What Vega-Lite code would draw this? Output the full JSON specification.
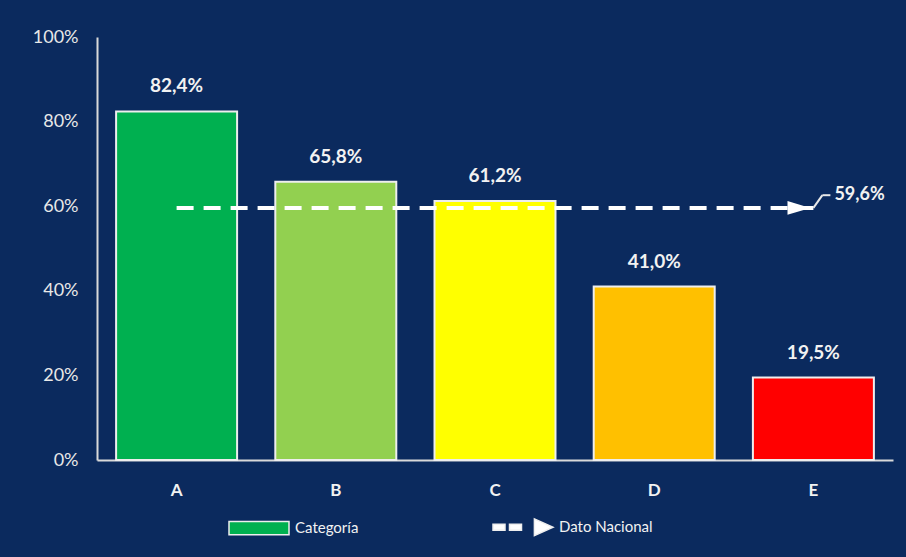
{
  "$schema": "https://vega.github.io/schema/vega-lite/v6.json",
  "width": 796,
  "height": 423,
  "autosize": {"type": "none"},
  "padding": {"left": 97, "top": 37, "right": 13, "bottom": 97},
  "background": "#0b2a5e",
  "config": {
    "view": {"stroke": null},
    "font": "Lato",
    "locale": {"number": {"decimal": ",", "thousands": ".", "grouping": [3], "currency": ["", " €"]}},
    "axis": {"domainColor": "#d9d9d9", "domainWidth": 2, "ticks": false, "grid": false, "labelColor": "#e8e8e8", "labelFont": "Lato", "title": null}
  },
  "data": {"values": [
    {"cat": "A", "valor": 0.824, "color": "#00b050"},
    {"cat": "B", "valor": 0.658, "color": "#92d050"},
    {"cat": "C", "valor": 0.612, "color": "#ffff00"},
    {"cat": "D", "valor": 0.410, "color": "#ffc000"},
    {"cat": "E", "valor": 0.195, "color": "#ff0000"}
  ]},
  "layer": [
    {
      "data": {"values": [
        {"cat": "A", "valor": 0.3, "leyenda": "Categoría"},
        {"cat": "B", "valor": 0.3, "leyenda": "Dato Nacional"}
      ]},
      "mark": {"type": "point", "filled": true, "opacity": 1, "size": 3600, "stroke": "#eeeeee", "strokeWidth": 1.5},
      "encoding": {
        "x": {"field": "cat", "type": "nominal", "sort": null,
              "scale": {"type": "band", "paddingInner": 0.24, "paddingOuter": 0.12},
              "axis": {"labelAngle": 0, "labelFontSize": 17, "labelFontWeight": "bold", "labelPadding": 22, "labelColor": "#f2f2f2"}},
        "y": {"field": "valor", "type": "quantitative",
              "scale": {"domain": [0, 1]},
              "axis": {"format": ".0%", "values": [0, 0.2, 0.4, 0.6, 0.8, 1], "labelFontSize": 18, "labelPadding": 19}},
        "shape": {"field": "leyenda", "type": "nominal",
                  "scale": {"domain": ["Categoría", "Dato Nacional"],
                            "range": ["M-1,-0.22H1V0.22H-1Z", "M-1,-0.1H-0.6V0.1H-1Z M-0.45,-0.1H-0.05V0.1H-0.45Z M0.38,-0.28L1,0L0.38,0.28Z"]}},
        "color": {"field": "leyenda", "type": "nominal",
                  "scale": {"domain": ["Categoría", "Dato Nacional"], "range": ["#00b050", "#ffffff"]},
                  "legend": {
                    "orient": "none", "legendX": 131, "legendY": 459,
                    "direction": "horizontal", "columns": 2, "columnPadding": 131,
                    "title": null, "symbolSize": 3600, "labelOffset": 5,
                    "labelFont": "Lato", "labelFontSize": 15, "labelColor": "#f2f2f2",
                    "symbolOpacity": 1, "symbolStrokeColor": "#eeeeee", "symbolStrokeWidth": 1.5
                  }}
      }
    },
    {
      "mark": {"type": "bar", "strokeWidth": 2, "stroke": "#eeeeee"},
      "encoding": {
        "x": {"field": "cat", "type": "nominal", "sort": null},
        "y": {"field": "valor", "type": "quantitative"},
        "fill": {"field": "color", "type": "nominal", "scale": null}
      }
    },
    {
      "mark": {"type": "text", "baseline": "middle", "dy": -25, "fontSize": 19, "fontWeight": "bold", "color": "#f2f2f2"},
      "encoding": {
        "x": {"field": "cat", "type": "nominal", "sort": null},
        "y": {"field": "valor", "type": "quantitative"},
        "text": {"field": "valor", "type": "quantitative", "format": ".1%"}
      }
    },
    {
      "data": {"values": [
        {"cat": "A", "valor": 0.596},
        {"cat": "E", "valor": 0.596}
      ]},
      "mark": {"type": "line", "strokeWidth": 4, "strokeDash": [17, 10], "color": "#ffffff"},
      "encoding": {
        "x": {"field": "cat", "type": "nominal", "sort": null},
        "y": {"field": "valor", "type": "quantitative"}
      }
    },
    {
      "data": {"values": [{"cat": "E", "valor": 0.596, "y2": 0.626, "etiqueta": 0.596}]},
      "layer": [
        {
          "mark": {"type": "point", "shape": "M-1,-0.3L0,0L-1,0.3Z", "size": 2100, "filled": true, "color": "#ffffff", "opacity": 1, "xOffset": -3},
          "encoding": {
            "x": {"field": "cat", "type": "nominal", "sort": null},
            "y": {"field": "valor", "type": "quantitative"}
          }
        },
        {
          "mark": {"type": "rule", "color": "#e8e8e8", "strokeWidth": 2, "xOffset": 0, "x2Offset": 9},
          "encoding": {
            "x": {"field": "cat", "type": "nominal", "sort": null},
            "x2": {"field": "cat"},
            "y": {"field": "valor", "type": "quantitative"},
            "y2": {"field": "y2"}
          }
        },
        {
          "mark": {"type": "rule", "color": "#e8e8e8", "strokeWidth": 2, "xOffset": 9, "x2Offset": 17},
          "encoding": {
            "x": {"field": "cat", "type": "nominal", "sort": null},
            "x2": {"field": "cat"},
            "y": {"field": "y2", "type": "quantitative"}
          }
        },
        {
          "mark": {"type": "text", "align": "left", "baseline": "middle", "dx": 21, "fontSize": 18, "fontWeight": "bold", "color": "#f2f2f2"},
          "encoding": {
            "x": {"field": "cat", "type": "nominal", "sort": null},
            "y": {"field": "y2", "type": "quantitative"},
            "text": {"field": "etiqueta", "type": "quantitative", "format": ".1%"}
          }
        }
      ]
    }
  ]
}
